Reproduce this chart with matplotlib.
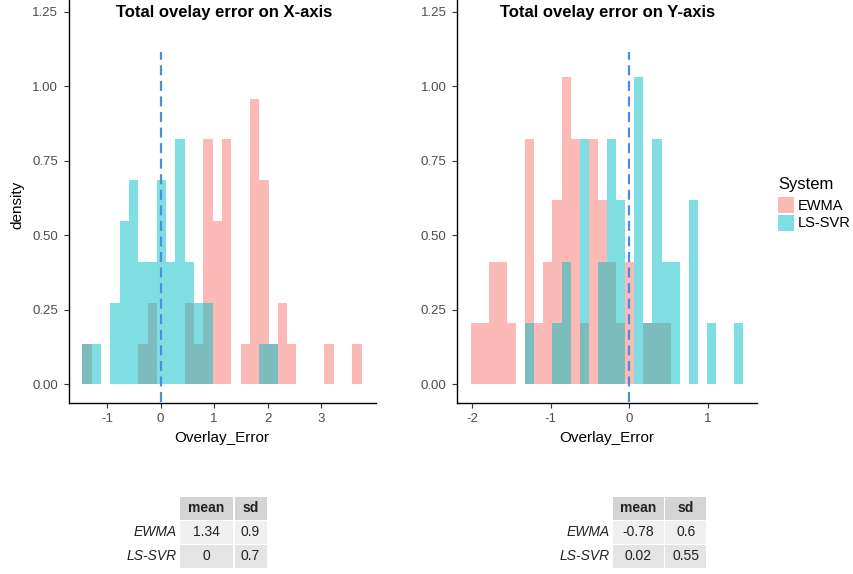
import numpy as np
import matplotlib.pyplot as plt
from matplotlib.patches import Rectangle

plt.rcParams['font.family'] = ['Liberation Sans', 'DejaVu Sans']
plt.rcParams['axes.unicode_minus'] = False

# histogram data: 30 shared bins per panel, counts per bin
n_obs = 42
x_range = (-1.461, 3.756)
x_ewma = [1, 0, 0, 0, 0, 0, 1, 2, 0, 0, 0, 2, 1, 6, 4, 6, 0, 1, 7, 5, 1, 2, 1, 0, 0, 0, 1, 0, 0, 1]
x_lssvr = [1, 1, 0, 2, 4, 5, 3, 3, 5, 3, 6, 3, 2, 2, 0, 0, 0, 0, 0, 1, 1, 0, 0, 0, 0, 0, 0, 0, 0, 0]

y_range = (-2.016, 1.453)
y_ewma = [1, 1, 2, 2, 1, 0, 4, 1, 2, 3, 5, 4, 1, 4, 3, 2, 1, 2, 0, 1, 1, 1, 0, 0, 0, 0, 0, 0, 0, 0]
y_lssvr = [0, 0, 0, 0, 0, 0, 1, 0, 0, 1, 2, 0, 4, 0, 2, 4, 3, 0, 5, 1, 4, 2, 2, 0, 3, 0, 1, 0, 0, 1]

systems = ["EWMA", "LS-SVR"]
colors = ["#F8766D", "#00BFC4"]

table_cols = ["mean", "sd"]
x_stats = [["1.34", "0.9"], ["0", "0.7"]]
y_stats = [["-0.78", "0.6"], ["0.02", "0.55"]]

W, H = 854, 574
fig = plt.figure(figsize=(W / 100, H / 100), dpi=100)


def px_rect(x0, x1, y_top, y_bot):
    return [x0 / W, 1 - y_bot / H, (x1 - x0) / W, (y_bot - y_top) / H]


def draw_panel(ax, rng, ewma, lssvr, ticks):
    edges = np.linspace(rng[0], rng[1], 31)
    w = edges[1] - edges[0]
    for counts, c in zip([ewma, lssvr], colors):
        dens = np.array(counts) / (n_obs * w)
        ax.bar(edges[:-1], dens, width=w, align="edge", color=c, alpha=0.5, linewidth=0)
    ax.vlines(0, -0.06, 1.115, colors="#4A8FDB", linestyles=(0, (4.5, 2.5)), linewidth=1.6)
    span = rng[1] - rng[0]
    ax.set_xlim(rng[0] - 0.05 * span, rng[1] + 0.05 * span)
    ax.set_ylim(-0.0625, 1.3125)
    ax.set_xticks(ticks)
    ax.set_yticks([0, 0.25, 0.5, 0.75, 1.0, 1.25])
    ax.set_yticklabels(["0.00", "0.25", "0.50", "0.75", "1.00", "1.25"])
    for s in ["top", "right"]:
        ax.spines[s].set_visible(False)
    for s in ["left", "bottom"]:
        ax.spines[s].set_linewidth(1.0)
    ax.tick_params(length=3.5, width=0.8, color="#333333", labelcolor="#4D4D4D",
                   labelsize=9.5, pad=4)
    ax.set_xlabel("Overlay_Error", fontsize=11, labelpad=4)


ax1 = fig.add_axes(px_rect(68.5, 375.5, -7, 403))
draw_panel(ax1, x_range, x_ewma, x_lssvr, [-1, 0, 1, 2, 3])
ax1.set_ylabel("density", fontsize=11)
ax1.yaxis.set_label_coords(-0.145, 0.483)
ax2 = fig.add_axes(px_rect(457, 757, -7, 403))
draw_panel(ax2, y_range, y_ewma, y_lssvr, [-2, -1, 0, 1])

fig.text(224 / W, 1 - 12 / H, "Total ovelay error on X-axis", ha="center", va="center",
         fontsize=12, fontweight="bold")
fig.text(608 / W, 1 - 12 / H, "Total ovelay error on Y-axis", ha="center", va="center",
         fontsize=12, fontweight="bold")

# legend, drawn by hand
fig.text(778 / W, 1 - 185 / H, "System", ha="left", va="center", fontsize=12)
for i, (name, c) in enumerate(zip(systems, colors)):
    top = 197.5 + i * 17.5
    fig.add_artist(Rectangle((778 / W, 1 - (top + 15.5) / H), 16 / W, 15.5 / H,
                             transform=fig.transFigure, facecolor=c, alpha=0.5,
                             edgecolor="none"))
    fig.text(798 / W, 1 - (top + 8) / H, name, ha="left", va="center", fontsize=10.5)


def draw_table(label_right, col_widths, stats):
    top, row_h, gap = 497, 23, 1
    fills = ["#D4D4D4", "#F0F0F0", "#E4E4E4"]
    rows = [table_cols] + stats
    labels = [""] + systems
    for r, (lab, vals) in enumerate(zip(labels, rows)):
        y0 = top + r * (row_h + gap)
        yc = 1 - (y0 + row_h / 2) / H
        if lab:
            fig.text((label_right - 2) / W, yc, lab, ha="right", va="center",
                     fontsize=10, style="italic", color="#222222")
        x0 = label_right + 1
        for cw, v in zip(col_widths, vals):
            fig.add_artist(Rectangle((x0 / W, 1 - (y0 + row_h) / H), cw / W, row_h / H,
                                     transform=fig.transFigure, facecolor=fills[r],
                                     edgecolor="none"))
            fig.text((x0 + cw / 2) / W, yc, v, ha="center", va="center", fontsize=10,
                     fontweight="bold" if r == 0 else "normal", color="#222222")
            x0 += cw + 1.5


draw_table(179, [53, 32], x_stats)
draw_table(612, [51, 41], y_stats)

fig.savefig("out.png", dpi=100)
